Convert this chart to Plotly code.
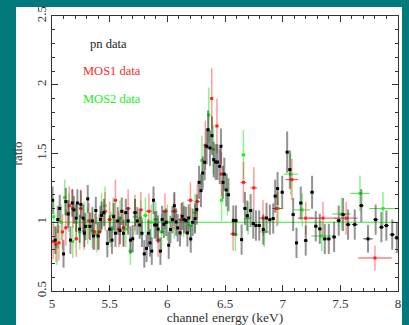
import plotly.graph_objects as go

# ---------------- data ----------------
pn_E = [5.005, 5.028, 5.05, 5.067, 5.10, 5.12, 5.14, 5.16, 5.175, 5.19, 5.21, 5.22, 5.24, 5.25, 5.27, 5.28,
        5.29, 5.31, 5.33, 5.35, 5.36, 5.38, 5.40, 5.42, 5.43, 5.45, 5.48, 5.50, 5.52, 5.535, 5.55, 5.57,
        5.59, 5.605, 5.62, 5.64, 5.66, 5.68, 5.70, 5.72, 5.74, 5.76, 5.78, 5.80, 5.82, 5.835, 5.85, 5.865,
        5.88, 5.89, 5.905, 5.92, 5.94, 5.955, 5.97, 5.99,
        6.012, 6.027, 6.044, 6.061, 6.076, 6.09, 6.11, 6.128, 6.145, 6.162, 6.174, 6.185, 6.203, 6.22,
        6.24, 6.255, 6.275, 6.292, 6.307, 6.324, 6.341, 6.353, 6.37, 6.387, 6.402, 6.419, 6.434, 6.454,
        6.465, 6.483, 6.494, 6.511, 6.53, 6.572, 6.595, 6.644, 6.673, 6.693, 6.722, 6.745, 6.768, 6.797,
        6.832, 6.86, 6.889, 6.918, 6.935, 6.956, 6.996, 7.039, 7.062, 7.091, 7.12, 7.157, 7.20, 7.255,
        7.287, 7.322, 7.365, 7.40, 7.446, 7.486, 7.524, 7.567, 7.625, 7.682, 7.74, 7.806, 7.856, 7.899,
        7.95, 7.99]
pn_ratio = [1.16, 0.87, 1.02, 1.10, 0.77, 1.15, 1.06, 0.87, 1.14, 1.09, 1.03, 1.14, 0.95, 1.13, 1.03, 0.92,
            0.97, 1.17, 0.97, 1.01, 0.90, 1.085, 0.90, 1.02, 1.05, 1.07, 0.845, 0.95, 0.87, 1.04, 0.92, 1.01,
            0.94, 1.08, 0.92, 1.07, 1.01, 0.87, 0.88, 1.07, 1.01, 0.98, 0.92, 0.77, 0.81, 0.92, 0.85, 0.79,
            1.16, 0.98, 0.98, 0.95, 0.79, 1.02, 0.985, 1.00,
            0.833, 0.947, 1.019, 1.12, 1.002, 0.959, 0.923, 1.044, 1.019, 1.012, 0.923, 1.031, 0.879, 1.0,
            1.027, 1.092, 1.29, 1.23, 1.358, 1.436, 1.552, 1.673, 1.54, 1.63, 1.455, 1.438, 1.438, 1.407,
            1.552, 1.29, 1.35, 1.235, 1.20, 1.012, 1.012, 0.874, 1.10, 1.048, 1.085, 0.99, 0.976, 0.976,
            0.947, 1.031, 1.019, 1.027, 1.19, 1.245, 1.218, 1.51, 1.383, 1.056, 0.85, 1.14, 0.867, 1.218,
            0.971, 0.952, 0.879, 0.879, 0.893, 1.012, 1.056, 0.983, 0.983, 1.121, 0.879, 1.019, 0.964, 0.976,
            0.91, 0.886]
pn_xerr = [0.009, 0.009, 0.009, 0.009, 0.009, 0.009, 0.009, 0.009, 0.009, 0.009, 0.009, 0.009,
           0.009, 0.009, 0.009, 0.009, 0.009, 0.009, 0.009, 0.009, 0.009, 0.009, 0.009, 0.009, 0.009, 0.009,
           0.009, 0.009, 0.009, 0.009, 0.009, 0.009, 0.009, 0.009, 0.009, 0.009, 0.009, 0.009, 0.009, 0.009,
           0.009, 0.009, 0.009, 0.009, 0.009, 0.009, 0.009, 0.009, 0.009, 0.009, 0.009, 0.009, 0.009, 0.009,
           0.009, 0.009,
           0.008, 0.008, 0.008, 0.008, 0.008, 0.008, 0.008, 0.008, 0.008, 0.008, 0.006, 0.006, 0.008, 0.008,
           0.008, 0.008, 0.008, 0.008, 0.008, 0.008, 0.007, 0.007, 0.008, 0.008, 0.008, 0.008, 0.008, 0.008,
           0.008, 0.008, 0.008, 0.008, 0.01, 0.011, 0.011, 0.012, 0.012, 0.012, 0.012, 0.012, 0.012, 0.012,
           0.013, 0.013, 0.013, 0.013, 0.012, 0.012, 0.014, 0.012, 0.012, 0.014, 0.014, 0.016, 0.016, 0.016,
           0.016, 0.016, 0.018, 0.018, 0.018, 0.018, 0.02, 0.02, 0.025, 0.02, 0.04, 0.022, 0.022, 0.022,
           0.022, 0.022]
pn_yerr = [0.10, 0.10, 0.10, 0.10, 0.10, 0.10, 0.10, 0.10, 0.10, 0.10, 0.10, 0.10, 0.10, 0.10, 0.10, 0.10,
           0.10, 0.10, 0.10, 0.10, 0.10, 0.10, 0.10, 0.10, 0.10, 0.10, 0.10, 0.10, 0.10, 0.10, 0.10, 0.10,
           0.10, 0.10, 0.10, 0.10, 0.10, 0.10, 0.10, 0.10, 0.10, 0.10, 0.10, 0.10, 0.10, 0.10, 0.10, 0.10,
           0.10, 0.10, 0.10, 0.10, 0.10, 0.10, 0.10, 0.10,
           0.10, 0.10, 0.10, 0.10, 0.10, 0.10, 0.10, 0.10, 0.10, 0.10, 0.10, 0.10, 0.10, 0.10,
           0.11, 0.11, 0.12, 0.12, 0.12, 0.13, 0.13, 0.14, 0.13, 0.14, 0.13, 0.13, 0.13, 0.13,
           0.13, 0.12, 0.12, 0.12, 0.12, 0.11, 0.11, 0.11, 0.12, 0.11, 0.12, 0.11, 0.11, 0.11,
           0.11, 0.11, 0.11, 0.11, 0.12, 0.12, 0.12, 0.15, 0.14, 0.12, 0.11, 0.12, 0.11, 0.12,
           0.11, 0.11, 0.11, 0.11, 0.11, 0.11, 0.12, 0.11, 0.11, 0.12, 0.10, 0.11, 0.11, 0.11,
           0.11, 0.11]

mos1_E = [5.01, 5.035, 5.06, 5.09, 5.12, 5.15, 5.18, 5.21, 5.25, 5.28, 5.32, 5.37, 5.41, 5.46, 5.50,
          5.55, 5.58, 5.62, 5.66, 5.72, 5.77, 5.84, 5.92, 5.98, 6.06, 6.12, 6.20, 6.26, 6.33, 6.385,
          6.43, 6.47, 6.57, 6.66, 6.75, 6.83, 6.95, 7.08, 7.20, 7.35, 7.55, 7.80]
mos1_ratio = [0.86, 0.84, 0.85, 0.93, 0.96, 1.12, 1.10, 0.88, 1.10, 0.93, 1.01, 0.93, 0.93, 1.08, 1.02,
              1.16, 0.95, 0.96, 1.10, 1.07, 1.09, 1.08, 0.87, 1.08, 1.08, 1.02, 1.16, 1.15, 1.56, 1.90,
              1.70, 1.35, 0.915, 1.29, 1.25, 1.03, 1.10, 1.31, 1.03, 1.03, 1.03, 0.74]
mos1_xerr = [0.012, 0.012, 0.012, 0.012, 0.012, 0.012, 0.012, 0.014, 0.015, 0.015, 0.016, 0.016, 0.016,
             0.018, 0.018, 0.018, 0.018, 0.02, 0.02, 0.022, 0.022, 0.025, 0.025, 0.025, 0.028, 0.025,
             0.025, 0.025, 0.015, 0.012, 0.015, 0.018, 0.025, 0.025, 0.03, 0.035, 0.04, 0.055, 0.07,
             0.12, 0.10, 0.145]
mos1_yerr = [0.13, 0.13, 0.13, 0.13, 0.13, 0.14, 0.14, 0.13, 0.14, 0.13, 0.13, 0.13, 0.13, 0.14, 0.13,
             0.15, 0.13, 0.13, 0.14, 0.13, 0.13, 0.13, 0.12, 0.13, 0.13, 0.12, 0.13, 0.13, 0.18, 0.22,
             0.20, 0.16, 0.12, 0.15, 0.15, 0.13, 0.13, 0.15, 0.12, 0.12, 0.12, 0.09]

mos2_E = [5.015, 5.045, 5.08, 5.11, 5.145, 5.18, 5.21, 5.24, 5.28, 5.31, 5.35, 5.39, 5.43, 5.46, 5.51,
          5.53, 5.59, 5.64, 5.68, 5.72, 5.77, 5.81, 5.86, 5.90, 5.95, 6.00, 6.06, 6.14, 6.20, 6.24,
          6.30, 6.36, 6.40, 6.47, 6.52, 6.59, 6.66, 6.70, 6.84, 6.96, 7.07, 7.17, 7.34, 7.51, 7.67, 7.87]
mos2_ratio = [1.04, 0.82, 1.00, 1.18, 1.07, 0.86, 1.00, 0.93, 1.02, 0.97, 0.94, 0.91, 1.07, 1.12, 0.95,
              1.05, 1.03, 0.95, 0.79, 1.04, 1.03, 1.05, 1.00, 1.02, 0.93, 1.00, 1.01, 1.02, 0.98, 1.07,
              1.45, 1.78, 1.53, 1.16, 1.20, 0.91, 1.49, 1.03, 0.93, 1.10, 1.35, 1.09, 0.90, 1.06, 1.21, 1.10]
mos2_xerr = [0.012, 0.012, 0.012, 0.012, 0.012, 0.012, 0.014, 0.014, 0.015, 0.015, 0.016, 0.016, 0.016,
             0.016, 0.018, 0.018, 0.018, 0.02, 0.02, 0.022, 0.022, 0.022, 0.025, 0.025, 0.025, 0.025,
             0.028, 0.025, 0.025, 0.02, 0.015, 0.012, 0.015, 0.018, 0.02, 0.025, 0.02, 0.03, 0.04,
             0.04, 0.06, 0.07, 0.09, 0.08, 0.085, 0.12]
mos2_yerr = [0.13, 0.13, 0.13, 0.13, 0.14, 0.12, 0.13, 0.13, 0.13, 0.13, 0.13, 0.13, 0.14, 0.14, 0.13,
             0.13, 0.13, 0.13, 0.10, 0.13, 0.13, 0.13, 0.13, 0.13, 0.13, 0.13, 0.13, 0.13, 0.13, 0.14,
             0.18, 0.20, 0.18, 0.15, 0.15, 0.12, 0.18, 0.12, 0.11, 0.12, 0.15, 0.12, 0.11, 0.12, 0.13, 0.12]

model_E = [5.0, 8.0]
model_ratio = [1.0, 1.0]

x_tickvals = [5, 5.5, 6, 6.5, 7, 7.5, 8]
x_ticktext = ["5", "5.5", "6", "6.5", "7", "7.5", "8"]
y_tickvals = [0.5, 1, 1.5, 2, 2.5]
y_ticktext = ["0.5", "1", "1.5", "2", "2.5"]

labels = ["pn data", "MOS1 data", "MOS2 data"]

# ---------------- figure ----------------
TEAL = "#007a7a"
FONT = "Liberation Serif"

fig = go.Figure()

fig.add_trace(go.Scatter(
    x=model_E, y=model_ratio, mode="lines",
    line=dict(color="#33ee33", width=1.2), hoverinfo="skip", showlegend=False))

fig.add_trace(go.Scatter(
    x=mos2_E, y=mos2_ratio, mode="markers",
    marker=dict(color="#22ee22", size=3, symbol="square"),
    error_x=dict(type="data", array=mos2_xerr, color="rgba(30,230,30,0.85)", thickness=1, width=0),
    error_y=dict(type="data", array=mos2_yerr, color="rgba(60,235,60,0.6)", thickness=1.5, width=0),
    showlegend=False))

fig.add_trace(go.Scatter(
    x=mos1_E, y=mos1_ratio, mode="markers",
    marker=dict(color="#ff2020", size=3, symbol="square"),
    error_x=dict(type="data", array=mos1_xerr, color="rgba(255,30,30,0.85)", thickness=1, width=0),
    error_y=dict(type="data", array=mos1_yerr, color="rgba(255,60,60,0.5)", thickness=1.5, width=0),
    showlegend=False))

fig.add_trace(go.Scatter(
    x=pn_E, y=pn_ratio, mode="markers",
    marker=dict(color="#000000", size=3, symbol="square"),
    error_x=dict(type="data", array=pn_xerr, color="rgba(0,0,0,0.8)", thickness=1, width=0),
    error_y=dict(type="data", array=pn_yerr, color="rgba(40,40,40,0.5)", thickness=2, width=0),
    showlegend=False))

# white page on teal background
fig.add_shape(type="rect", xref="paper", yref="paper",
              x0=-0.104, x1=1.0116, y0=-0.2, y1=1.0327,
              fillcolor="white", line=dict(width=0), layer="below")

ann_colors = ["#222222", "#ff2a2a", "#22ee22"]
ann_x = [5.314, 5.254, 5.254]
ann_y = [2.298, 2.102, 1.898]
for t, c, xx, yy in zip(labels, ann_colors, ann_x, ann_y):
    fig.add_annotation(x=xx, y=yy, xref="x", yref="y", text=t, showarrow=False,
                       xanchor="left", yanchor="middle",
                       font=dict(family=FONT, size=12.5, color=c))

axis_common = dict(
    showline=True, linecolor="#333333", linewidth=1, mirror="ticks",
    ticks="inside", ticklen=6, tickcolor="#333333", showgrid=False, zeroline=False,
    tickfont=dict(family=FONT, size=13, color="#333333"), automargin=False,
)

fig.update_xaxes(range=[5, 8], tickvals=x_tickvals, ticktext=x_ticktext,
                 minor=dict(ticks="inside", ticklen=3, dtick=0.1, tickcolor="#333333", showgrid=False),
                 title=dict(text="channel energy (keV)", font=dict(family=FONT, size=13.5, color="#333333"),
                            standoff=3),
                 **axis_common)
fig.update_yaxes(range=[0.5, 2.5], tickvals=y_tickvals, ticktext=y_ticktext, tickangle=-90,
                 minor=dict(ticks="inside", ticklen=3, dtick=0.1, tickcolor="#333333", showgrid=False),
                 title=dict(text="ratio", font=dict(family=FONT, size=13, color="#333333"), standoff=8),
                 **axis_common)

fig.update_layout(
    width=409, height=325,
    margin=dict(l=52, r=11, t=16, b=34, autoexpand=False),
    paper_bgcolor=TEAL, plot_bgcolor="white",
    showlegend=False,
)

fig.write_html("out.html",
               config={"displayModeBar": False, "staticPlot": True},
               post_script="document.body.style.margin='0';document.body.style.padding='0';"
                           "document.documentElement.style.overflow='hidden';")
